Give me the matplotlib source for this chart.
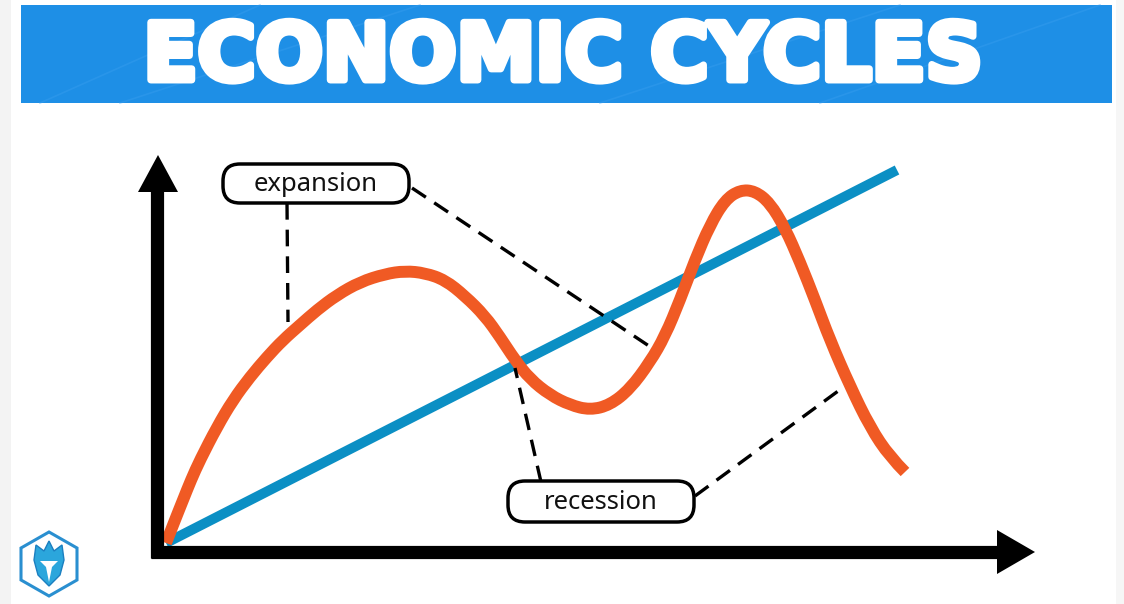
import matplotlib
matplotlib.use("Agg")
import matplotlib.pyplot as plt
from matplotlib.patches import Polygon, FancyBboxPatch, Rectangle, PathPatch
from matplotlib.path import Path
import matplotlib.patheffects as pe

# ---------------- data (pixel-space coordinates of the drawing) ----------------
title_text = "ECONOMIC CYCLES"
label_expansion = "expansion"
label_recession = "recession"

# business cycle curve (orange)
cycle_x = [166, 175, 183, 191, 200, 217, 233, 250, 267, 283, 300, 317, 337, 360,
           385, 405, 425, 445, 465, 485, 500, 515, 530, 550, 570, 590, 610, 630,
           650, 665, 680, 695, 710, 725, 740, 755, 770, 785, 800, 815, 830, 850,
           870, 890, 905]
cycle_y = [543, 520, 500, 480, 460, 427, 400, 377, 357, 340, 325, 310, 295, 282,
           274, 271, 273, 280, 296, 316, 337, 360, 379, 395, 405, 410, 405, 389,
           362, 336, 300, 260, 225, 200, 190, 191, 203, 228, 262, 300, 340, 386,
           427, 457, 472]

# long-term growth trend (blue)
trend_x = [166, 897]
trend_y = [543, 170]

# axes lines
yaxis_x = [157, 157]
yaxis_y = [558, 188]
xaxis_x = [151, 1000]
xaxis_y = [552, 552]
yarrow_x = [138, 158, 178]
yarrow_y = [192, 155, 192]
xarrow_x = [997, 1035, 997]
xarrow_y = [530, 552, 574]

# dashed leader lines
lead_exp_1_x = [287, 288]
lead_exp_1_y = [203, 322]
lead_exp_2_x = [412, 655]
lead_exp_2_y = [188, 350]
lead_rec_1_x = [541, 515]
lead_rec_1_y = [482, 368]
lead_rec_2_x = [695, 845]
lead_rec_2_y = [496, 386]

# label boxes: (left, top, width, height)
box_expansion = (223, 164, 186, 39)
box_recession = (508, 481, 186, 41)

ORANGE = "#f05a24"
BLUE = "#0b8fc4"
BANNER = "#1e8fe6"

fig = plt.figure(figsize=(11.24, 6.04), dpi=100)
ax = fig.add_axes([0, 0, 1, 1])
ax.set_xlim(0, 1124)
ax.set_ylim(604, 0)
ax.axis("off")
fig.patch.set_facecolor("white")

# light grey side strips
ax.add_patch(Rectangle((0, 0), 11, 604, facecolor="#f3f3f3", edgecolor="none", zorder=0))
ax.add_patch(Rectangle((1116, 0), 8, 604, facecolor="#f6f6f6", edgecolor="none", zorder=0))

# banner
ax.add_patch(Rectangle((21, 5), 1091, 98, facecolor=BANNER, edgecolor="none", zorder=1))
for x0, x1 in [(40, 260), (120, 420), (600, 900), (820, 1100)]:
    ax.plot([x0, x1], [103, 5], color="#3a9ff0", lw=1.2, alpha=0.4, zorder=1.5)
ax.text(563, 58, title_text, ha="center", va="center", color="white",
        fontsize=57, fontweight="bold", family="DejaVu Sans", zorder=3,
        path_effects=[pe.withStroke(linewidth=5, foreground="white")])

# axes
ax.plot(yaxis_x, yaxis_y, color="black", lw=9.5, solid_capstyle="butt", zorder=5)
ax.plot(xaxis_x, xaxis_y, color="black", lw=9.5, solid_capstyle="butt", zorder=5)
ax.add_patch(Polygon(list(zip(yarrow_x, yarrow_y)), closed=True, facecolor="black",
                     edgecolor="none", zorder=5))
ax.add_patch(Polygon(list(zip(xarrow_x, xarrow_y)), closed=True, facecolor="black",
                     edgecolor="none", zorder=5))

# trend line
ax.plot(trend_x, trend_y, color=BLUE, lw=7.2, solid_capstyle="butt", zorder=3)

# cycle curve rendered as a smooth quadratic-Bezier path through the read points
pts = list(zip(cycle_x, cycle_y))
verts = [pts[0]]
codes = [Path.MOVETO]
for i in range(1, len(pts) - 1):
    mid = ((pts[i][0] + pts[i + 1][0]) / 2, (pts[i][1] + pts[i + 1][1]) / 2)
    if i == len(pts) - 2:
        mid = pts[-1]
    verts += [pts[i], mid]
    codes += [Path.CURVE3, Path.CURVE3]
ax.add_patch(PathPatch(Path(verts, codes), facecolor="none", edgecolor=ORANGE,
                       lw=8.6, capstyle="butt", joinstyle="round", zorder=4))

# dashed leaders
for lx, ly in [(lead_exp_1_x, lead_exp_1_y), (lead_exp_2_x, lead_exp_2_y),
               (lead_rec_1_x, lead_rec_1_y), (lead_rec_2_x, lead_rec_2_y)]:
    ax.plot(lx, ly, color="black", lw=2.4, linestyle=(0, (5, 3)), zorder=6)

# label boxes
for (bx, by, bw, bh), txt in [(box_expansion, label_expansion), (box_recession, label_recession)]:
    ax.add_patch(FancyBboxPatch((bx, by), bw, bh,
                                boxstyle="round,pad=0,rounding_size=17",
                                facecolor="white", edgecolor="black", lw=2.5, zorder=7))
    ax.text(bx + bw / 2, by + bh / 2 + 1, txt, ha="center", va="center",
            fontsize=18.5, family="Noto Sans", fontweight="medium",
            color="#111111", zorder=8)

# logo (hexagon with shield)
hex_x = [49, 77, 77, 49, 21, 21]
hex_y = [532, 548, 580, 596, 580, 548]
ax.add_patch(Polygon(list(zip(hex_x, hex_y)), closed=True, facecolor="white",
                     edgecolor="#2a8fd0", lw=2.2, zorder=5))
shield_x = [36, 44, 49, 54, 62, 64, 60, 49, 38, 34]
shield_y = [545, 551, 541, 551, 545, 560, 575, 586, 575, 560]
ax.add_patch(Polygon(list(zip(shield_x, shield_y)), closed=True, facecolor="#2ba6dc",
                     edgecolor="#1b7fc0", lw=1, zorder=6))
ax.add_patch(Polygon([(40, 561), (58, 561), (52, 567), (49, 582), (46, 567)], closed=True,
                     facecolor="white", edgecolor="none", zorder=7))

fig.savefig("out.png", dpi=100, facecolor="white")
